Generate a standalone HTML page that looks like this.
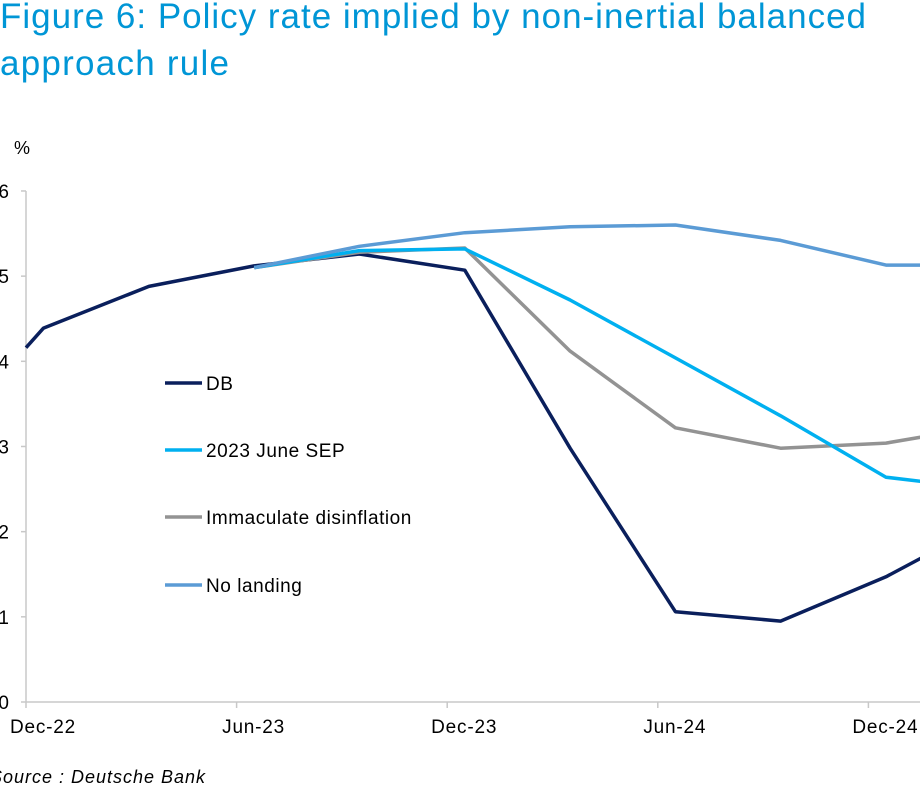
<!DOCTYPE html>
<html><head><meta charset="utf-8"><style>
body{margin:0;background:#fff;width:920px;height:790px;overflow:hidden;font-family:"Liberation Sans",sans-serif}
</style></head><body>
<svg id="c" width="920" height="790" style="position:absolute;left:0;top:0">
<text x="0" y="28" font-size="35" fill="#0096d6" textLength="866" lengthAdjust="spacing">Figure 6: Policy rate implied by non-inertial balanced</text>
<text x="0" y="75" font-size="35" fill="#0096d6" textLength="229" lengthAdjust="spacing">approach rule</text>
<text x="14" y="154" font-size="18" fill="#000">%</text>
<text x="-10" y="783" font-size="18" font-style="italic" fill="#000" textLength="215" lengthAdjust="spacing">Source : Deutsche Bank</text>
</svg>
<script>
const months=[0,0.5,3.5,6.5,9.5,12.5,15.5,18.5,21.5,24.5,25.5];
const dbVals=[4.16,4.39,4.88,5.12,5.26,5.07,2.98,1.06,0.95,1.47,1.69];
const sepVals=[null,null,null,5.1,5.30,5.32,4.72,4.04,3.36,2.64,2.59];
const immVals=[null,null,null,5.1,5.28,5.33,4.12,3.22,2.98,3.04,3.11];
const nlVals=[null,null,null,5.1,5.35,5.51,5.58,5.60,5.42,5.13,5.13];
const yTicks=[0,1,2,3,4,5,6];
const xTickLabels=["Dec-22","Jun-23","Dec-23","Jun-24","Dec-24"];
const xTickMonths=[0,6,12,18,24];
const NS="http://www.w3.org/2000/svg";
const svg=document.getElementById('c');
const X=m=>26+m*35.1;
const Y=v=>702-v*85.17;
function mk(t,a){const e=document.createElementNS(NS,t);for(const k in a)e.setAttribute(k,a[k]);svg.appendChild(e);return e;}
let ax=mk('line',{x1:26,y1:Y(6),x2:26,y2:Y(0),stroke:'#c8c8c8','stroke-width':1.5});


let bx=mk('line',{x1:26,y1:Y(0),x2:920,y2:Y(0),stroke:'#c8c8c8','stroke-width':1.5});


yTicks.forEach(v=>{
 let t=mk('line',{x1:21,y1:Y(v),x2:26,y2:Y(v),stroke:'#c8c8c8','stroke-width':1.5});
 
 
 let l=mk('text',{x:9,y:Y(v)+7,'font-size':19,'text-anchor':'end'});
 l.textContent=v;
 
 
});
xTickMonths.forEach((m,i)=>{
 let t=mk('line',{x1:X(m),y1:Y(0),x2:X(m),y2:Y(0)+6,stroke:'#c8c8c8','stroke-width':1.5});
 
 
 let l=mk('text',{x:X(m)+17,y:Y(0)+31,'font-size':19,'text-anchor':'middle','letter-spacing':0.8});
 l.textContent=xTickLabels[i];
 
 
});
function series(vals,color,name){
 const pts=[];vals.forEach((v,i)=>{if(v!==null)pts.push(X(months[i]).toFixed(1)+','+Y(v).toFixed(1));});
 let p=mk('polyline',{points:pts.join(' '),fill:'none',stroke:color,'stroke-width':3.5,'stroke-linejoin':'round'});
 
 
}
series(dbVals,'#0a1f5c','db-line');
series(immVals,'#939393','immaculate-disinflation-line');
series(sepVals,'#00b0f0','june-sep-line');
series(nlVals,'#5b9bd5','no-landing-line');
const legNames=["DB","2023 June SEP","Immaculate disinflation","No landing"];
const legColors=['#0a1f5c','#00b0f0','#939393','#5b9bd5'];
const legY=[383,450,517,585];
legNames.forEach((n,i)=>{
 let l=mk('line',{x1:165,y1:legY[i],x2:202,y2:legY[i],stroke:legColors[i],'stroke-width':3.5});
 
 
 let t=mk('text',{x:206,y:legY[i]+7,'font-size':19,'letter-spacing':0.55});
 t.textContent=n;
 
 
});
</script>
</body></html>
